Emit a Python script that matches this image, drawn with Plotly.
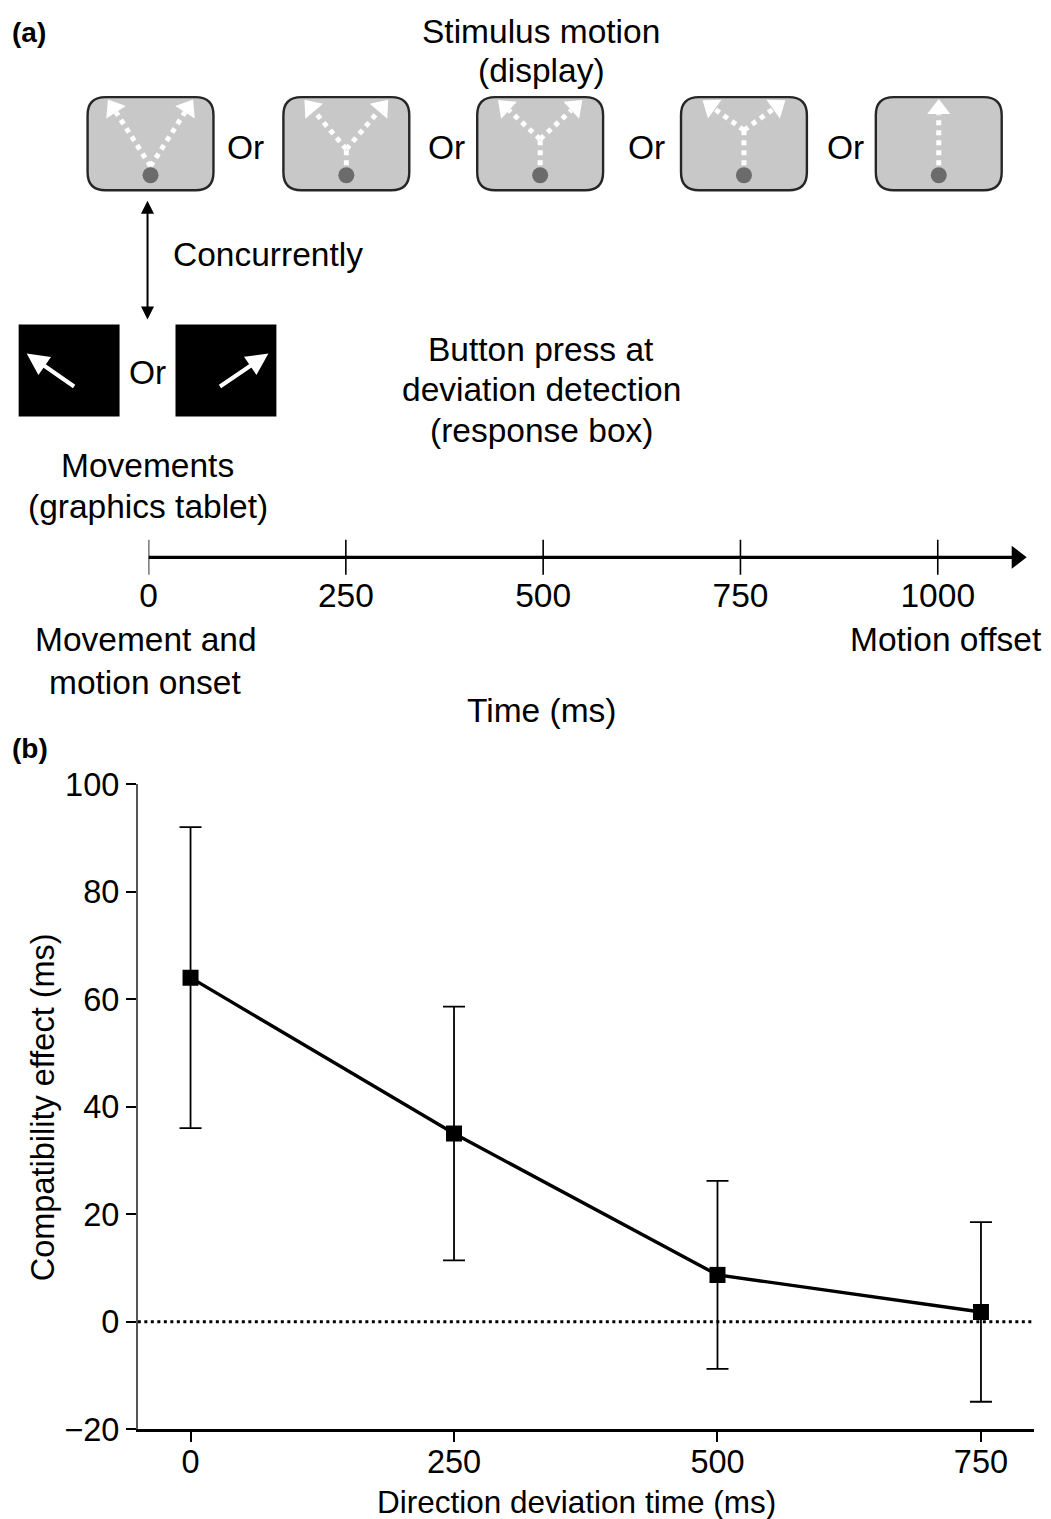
import math
import plotly.graph_objects as go

# ---- data -------------------------------------------------------------
deviation_time = [0, 250, 500, 750]          # ms
compat_effect = [64.0, 35.0, 8.7, 1.8]       # ms
compat_err = [28.0, 23.6, 17.5, 16.7]        # ms
timeline_ticks = [0, 250, 500, 750, 1000]    # ms
y_ticks = [-20, 0, 20, 40, 60, 80, 100]
y_ticktext = ["\u221220", "0", "20", "40", "60", "80", "100"]

# ---- canvas -------------------------------------------------------------
# The layout below is written in "sheet" pixels (1051 x 1519).  The figure
# sits on the page with a small offset and the page is shown slightly
# scaled, so sheet pixels are converted to figure pixels here.
W, H = 1051, 1545
SX, SY = 0.9924, 0.9752     # page -> sheet scale
OX, OY = 8.4, 19.5          # figure offset on the page
FONT = "Liberation Sans, Arial, Helvetica, sans-serif"
TOP_H = 740                 # bottom row of the schematic area (sheet pixels)


def fx(x):
    """sheet column -> paper x"""
    return (x / SX - OX) / W


def fy(y):
    """sheet row -> paper y"""
    return 1 - (y / SY - OY) / H


fig = go.Figure()

# ---- panel (b): compatibility effect ---------------------------------
fig.add_trace(go.Scatter(
    x=deviation_time, y=compat_effect,
    mode="lines+markers",
    line=dict(color="black", width=3.4),
    marker=dict(symbol="square", size=16, color="black"),
    error_y=dict(type="data", array=compat_err, visible=True,
                 color="black", thickness=1.8, width=11),
    xaxis="x", yaxis="y", showlegend=False, hoverinfo="skip",
))

# ---- panel (a): schematic --------------------------------------------
shapes = []
annotations = []


def rounded_rect(x0, y0, x1, y1, r):
    return (f"M {x0+r},{y0} L {x1-r},{y0} Q {x1},{y0} {x1},{y0+r} "
            f"L {x1},{y1-r} Q {x1},{y1} {x1-r},{y1} L {x0+r},{y1} "
            f"Q {x0},{y1} {x0},{y1-r} L {x0},{y0+r} Q {x0},{y0} {x0+r},{y0} Z")


def text(x, y, s, size=33.5, bold=False, xanchor="center"):
    annotations.append(dict(
        x=x, y=y, xref="x2", yref="y2", text=f"<b>{s}</b>" if bold else s,
        showarrow=False, xanchor=xanchor, yanchor="middle",
        font=dict(family=FONT, size=size, color="black")))


# stimulus display boxes: centre x, branch row (None = single straight path)
box_cx = [150, 346, 540, 744, 939]
branch_row = [167, 150, 140, 131, None]
half_spread = [41, 40, 40, 39, 0]
box_top, box_bot, box_hw = 98, 191, 63
dot_row, start_row, tip_row = 176, 166, 103

for cx, br, hs in zip(box_cx, branch_row, half_spread):
    shapes.append(dict(type="path", xref="x2", yref="y2",
                       path=rounded_rect(cx - box_hw, box_top, cx + box_hw, box_bot, 18),
                       fillcolor="#c8c8c8", line=dict(color="#262626", width=2.4),
                       layer="below"))
    # motion paths
    segs = []
    if br is None:
        segs.append(((cx, start_row), (cx, tip_row), True))
    else:
        if br < start_row:
            segs.append(((cx, start_row), (cx, br), False))
        segs.append(((cx, br), (cx - hs, tip_row), True))
        segs.append(((cx, br), (cx + hs, tip_row), True))
    for (x0, y0), (x1, y1), has_head in segs:
        dx, dy = x1 - x0, y1 - y0
        L = math.hypot(dx, dy)
        ux, uy = dx / L, dy / L
        ex, ey = (x1 - ux * 12, y1 - uy * 12) if has_head else (x1, y1)
        fig.add_trace(go.Scatter(
            x=[x0, ex], y=[y0, ey], mode="lines",
            line=dict(color="white", width=5, dash="5px,5px"),
            xaxis="x2", yaxis="y2", showlegend=False, hoverinfo="skip"))
        if has_head:
            ang = math.degrees(math.atan2(dx, -dy))
            fig.add_trace(go.Scatter(
                x=[x1 - ux * 7], y=[y1 - uy * 7], mode="markers",
                marker=dict(symbol="triangle-up", size=20, color="white",
                            angle=ang, line=dict(width=0)),
                xaxis="x2", yaxis="y2", showlegend=False, hoverinfo="skip"))

# start dots
fig.add_trace(go.Scatter(
    x=box_cx, y=[dot_row] * len(box_cx), mode="markers",
    marker=dict(symbol="circle", size=16, color="#6b6b6b"),
    xaxis="x2", yaxis="y2", showlegend=False, hoverinfo="skip"))

for x in [245, 446, 646, 846]:
    text(x, 148, "Or")

text(541, 32, "Stimulus motion")
text(541, 71, "(display)")
text(9, 33, "(a)", size=28, bold=True, xanchor="left")

# concurrency arrow
annotations.append(dict(x=147, y=320, ax=147, ay=200, xref="x2", yref="y2",
                        axref="x2", ayref="y2", text="", showarrow=True,
                        arrowhead=2, startarrowhead=2, arrowside="end+start",
                        arrowsize=1.3, startarrowsize=1.3, arrowwidth=2,
                        arrowcolor="black"))
text(170, 255, "Concurrently", xanchor="left")

# movement boxes (graphics tablet)
for (x0, x1), (tx0, ty0, tx1, ty1) in zip([(18, 119), (175, 276)],
                                          [(75, 388, 26, 354), (218, 388, 268, 354)]):
    shapes.append(dict(type="rect", xref="x2", yref="y2", x0=x0, x1=x1,
                       y0=325, y1=417, fillcolor="black", line=dict(width=0)))
    annotations.append(dict(x=tx1, y=ty1, ax=tx0, ay=ty0, xref="x2", yref="y2",
                            axref="x2", ayref="y2", text="", showarrow=True,
                            arrowhead=2, arrowsize=1.1, arrowwidth=4,
                            arrowcolor="white"))
text(147, 373, "Or")
text(147, 466, "Movements")
text(147, 507, "(graphics tablet)")

text(541, 350, "Button press at")
text(541, 390, "deviation detection")
text(541, 431, "(response box)")

text(145, 640, "Movement and")
text(145, 682, "motion onset")
text(946, 640, "Motion offset")
text(541, 710, "Time (ms)")

# timeline (its own axis: 0 ms at x=148, 0.79 sheet px per ms)
t0_px, px_per_ms, t_end_px = 148, 0.79, 1040
t_max = (t_end_px - t0_px) / px_per_ms
fig.add_trace(go.Scatter(
    x=[0, timeline_ticks[-1] + 105], y=[0, 0], mode="lines",
    line=dict(color="black", width=3.2), xaxis="x3", yaxis="y3",
    showlegend=False, hoverinfo="skip"))
fig.add_trace(go.Scatter(
    x=timeline_ticks, y=[0] * len(timeline_ticks), mode="markers",
    marker=dict(symbol="line-ns", size=28, line=dict(color="black", width=1.6)),
    xaxis="x3", yaxis="y3", showlegend=False, hoverinfo="skip"))
fig.add_trace(go.Scatter(
    x=[timeline_ticks[-1] + 100], y=[0], mode="markers",
    marker=dict(symbol="triangle-right", size=20, color="black"),
    xaxis="x3", yaxis="y3", showlegend=False, hoverinfo="skip"))

# panel label and axis titles for (b)
annotations.append(dict(x=fx(9), y=fy(748), xref="paper", yref="paper",
                        text="<b>(b)</b>", showarrow=False, xanchor="left",
                        yanchor="middle", font=dict(family=FONT, size=28, color="black")))
annotations.append(dict(x=fx(42), y=fy(1107), xref="paper", yref="paper",
                        text="Compatibility effect (ms)", textangle=-90,
                        showarrow=False, xanchor="center", yanchor="middle",
                        font=dict(family=FONT, size=32.5, color="black")))
annotations.append(dict(x=fx(576), y=fy(1501), xref="paper", yref="paper",
                        text="Direction deviation time (ms)", showarrow=False,
                        xanchor="center", yanchor="middle",
                        font=dict(family=FONT, size=31.5, color="black")))

# zero reference line
shapes.append(dict(type="line", xref="x domain", yref="y", x0=0, x1=1, y0=0, y1=0,
                   line=dict(color="black", width=3, dash="3px,3.5px")))

fig.update_layout(
    width=W, height=H,
    margin=dict(l=0, r=0, t=0, b=0),
    paper_bgcolor="white", plot_bgcolor="white",
    font=dict(family=FONT, color="black"),
    shapes=shapes, annotations=annotations,
    xaxis=dict(domain=[fx(137.3), fx(1034)], range=[-50, 800],
               tickvals=deviation_time, ticks="outside", ticklen=10,
               tickwidth=1.5, tickcolor="black", showgrid=False, zeroline=False,
               showline=True, linecolor="black", linewidth=2.5,
               tickfont=dict(family=FONT, size=32.5, color="black"),
               ticklabelstandoff=-8, anchor="y", fixedrange=True),
    yaxis=dict(domain=[fy(1428), fy(784)], range=[-20, 100],
               tickvals=y_ticks, ticktext=y_ticktext, ticks="outside",
               ticklen=10, tickwidth=1.5, tickcolor="black", showgrid=False,
               zeroline=False, showline=True, linecolor="#555555", linewidth=2,
               tickfont=dict(family=FONT, size=32.5, color="black"),
               anchor="x", fixedrange=True),
    xaxis2=dict(domain=[0, 1], range=[OX * SX, (W + OX) * SX], visible=False,
                anchor="y2", fixedrange=True),
    yaxis2=dict(domain=[fy(TOP_H), 1], range=[TOP_H, OY * SY], visible=False,
                anchor="x2", fixedrange=True),
    xaxis3=dict(domain=[fx(t0_px), fx(t_end_px)], range=[0, t_max],
                tickvals=timeline_ticks, ticks="", showgrid=False,
                zeroline=False, showline=False, anchor="y3",
                tickfont=dict(family=FONT, size=33.5, color="black"),
                ticklabelstandoff=-2, fixedrange=True),
    yaxis3=dict(domain=[fy(575), fy(540)], range=[-1, 1], visible=False,
                anchor="x3", fixedrange=True),
)

fig.write_html("out.html")
